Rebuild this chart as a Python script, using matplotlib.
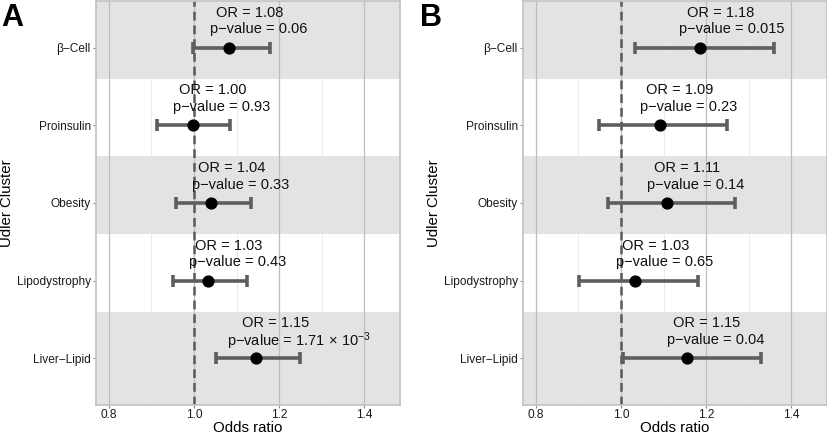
import matplotlib
matplotlib.use("Agg")
import matplotlib.pyplot as plt
from matplotlib.ticker import MultipleLocator

plt.rcParams['font.family'] = ['Liberation Sans', 'DejaVu Sans']
plt.rcParams['mathtext.fontset'] = 'custom'
plt.rcParams['mathtext.rm'] = 'Liberation Sans'
plt.rcParams['mathtext.it'] = 'Liberation Sans:italic'
plt.rcParams['mathtext.bf'] = 'Liberation Sans:bold'

# categories, top to bottom
clusters = ['β−Cell', 'Proinsulin', 'Obesity', 'Lipodystrophy', 'Liver−Lipid']

# panel A
or_a = [1.083, 0.997, 1.041, 1.034, 1.145]
lo_a = [0.998, 0.914, 0.957, 0.950, 1.052]
hi_a = [1.178, 1.085, 1.133, 1.125, 1.248]
or_txt_a = ['1.08', '1.00', '1.04', '1.03', '1.15']
p_txt_a = ['0.06', '0.93', '0.33', '0.43', r'1.71$\,\times\,$10$^{-3}$']

# panel B
or_b = [1.186, 1.091, 1.108, 1.034, 1.155]
lo_b = [1.034, 0.949, 0.969, 0.902, 1.005]
hi_b = [1.360, 1.249, 1.267, 1.181, 1.329]
or_txt_b = ['1.18', '1.09', '1.11', '1.03', '1.15']
p_txt_b = ['0.015', '0.23', '0.14', '0.65', '0.04']

fig = plt.figure(figsize=(8.28, 4.32), dpi=100)
ax_a = fig.add_axes([96/828, 27/432, 304/828, 404/432])
ax_b = fig.add_axes([523/828, 27/432, 304/828, 404/432])

labels = []


def draw_panel(ax, or_vals, lo, hi, or_txt, p_txt):
    ypos = list(range(len(clusters), 0, -1))
    ax.set_xlim(0.77, 1.484)
    ax.set_ylim(0.4, 5.6)

    # alternating bands (last one runs to the bottom of the panel)
    for i, y in enumerate(ypos):
        if i % 2 == 0:
            low = y - 0.4 if i < len(ypos) - 1 else 0
            ax.axhspan(low, y + 0.6, color='#e3e3e3', lw=0, zorder=0)

    ax.set_xticks([0.8, 1.0, 1.2, 1.4])
    ax.xaxis.set_minor_locator(MultipleLocator(0.1))
    ax.set_axisbelow(True)
    ax.grid(which='major', axis='x', color='#bdbdbd', lw=0.9)
    ax.grid(which='minor', axis='x', color='#e6e6e6', lw=0.6)
    ax.grid(which='major', axis='y', visible=False)

    ax.axvline(1.0, color='#5a5a5a', lw=1.8, ls=(0, (3.5, 2)), zorder=2)

    xerr = [[o - l for o, l in zip(or_vals, lo)], [h - o for o, h in zip(or_vals, hi)]]
    ax.errorbar(or_vals, ypos, xerr=xerr, fmt='none', ecolor='#5e5e5e',
                elinewidth=2.6, capsize=4.5, capthick=2.6, zorder=3)
    ax.plot(or_vals, ypos, 'o', color='black', ms=7.8, zorder=4)

    for o, y, ot, pt in zip(or_vals, ypos, or_txt, p_txt):
        t1 = ax.annotate(f'OR = {ot}', xy=(o, y), xytext=(0, 22.3),
                         textcoords='offset points', ha='left', va='baseline',
                         fontsize=10.5, color='#111111', zorder=5)
        p_off = 8.6 if '$' in pt else 10.4
        t2 = ax.annotate(f'p−value = {pt}', xy=(o, y), xytext=(0, p_off),
                         textcoords='offset points', ha='left', va='baseline',
                         fontsize=10.5, color='#111111', zorder=5)
        labels.extend([t1, t2])

    ax.set_yticks(ypos)
    ax.set_yticklabels(clusters)
    ax.tick_params(axis='both', which='major', labelsize=8.6, color='#8a8a8a',
                   length=2.5, width=0.8, pad=1.2, labelcolor='#1a1a1a')
    ax.tick_params(axis='x', which='major', length=2, pad=0.6)
    ax.tick_params(which='minor', length=0)

    for s in ax.spines.values():
        s.set_color('#c2c2c2')
        s.set_linewidth(1.2)

    ax.set_xlabel('Odds ratio', fontsize=10.8)
    ax.set_ylabel('Udler Cluster', fontsize=10.8)
    ax.xaxis.set_label_coords(0.5, -15.5/404)
    ax.yaxis.set_label_coords(-82/304, 0.5)


draw_panel(ax_a, or_a, lo_a, hi_a, or_txt_a, p_txt_a)
draw_panel(ax_b, or_b, lo_b, hi_b, or_txt_b, p_txt_b)

fig.text(1/828, 1 - 3/432, 'A', fontsize=22, fontweight='bold', va='top', ha='left')
fig.text(420/828, 1 - 3/432, 'B', fontsize=22, fontweight='bold', va='top', ha='left')

# left edge of each text line sits 20% of its width left of the point
fig.canvas.draw()
for t in labels:
    w = t.get_window_extent().width * 72 / fig.dpi
    x0, y0 = t.xyann
    t.xyann = (x0 - 0.2 * w, y0)

fig.savefig('out.png', dpi=100)
